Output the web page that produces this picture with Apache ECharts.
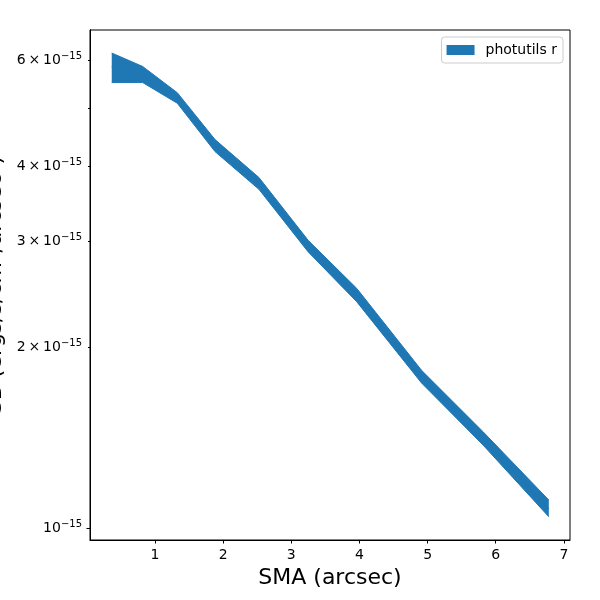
<!DOCTYPE html>
<html>
<head>
<meta charset="utf-8">
<script src="https://cdn.jsdelivr.net/npm/echarts@6/dist/echarts.min.js"></script>
<style>
  html, body { margin: 0; padding: 0; background: #fff; }
  #chart { width: 600px; height: 600px; }
</style>
</head>
<body>
<div id="chart"></div>
<script>
// surface brightness profile
const smaArcsec = [0.365, 0.819, 1.327, 1.880, 2.525, 3.248, 3.959, 4.911, 5.814, 6.779];
const sbUpper = [6.17e-15, 5.86e-15, 5.30e-15, 4.43e-15, 3.83e-15, 3.01e-15, 2.505e-15, 1.83e-15, 1.446e-15, 1.113e-15];
const sbLower = [5.51e-15, 5.51e-15, 5.09e-15, 4.23e-15, 3.66e-15, 2.88e-15, 2.38e-15, 1.743e-15, 1.374e-15, 1.044e-15];
const sbMid = [5.86e-15, 5.68e-15, 5.19e-15, 4.33e-15, 3.75e-15, 2.945e-15, 2.44e-15, 1.786e-15, 1.41e-15, 1.075e-15];

const xTicks = [1, 2, 3, 4, 5, 6, 7];
const yMajorTicks = [1e-15];
const yMinorTicks = [2e-15, 3e-15, 4e-15, 5e-15, 6e-15];
const yMinorLabels = [2e-15, 3e-15, 4e-15, 6e-15];

const blue = '#1f77b4';
const font = 'DejaVu Sans';
const sbUnit = 1e-15;

// the y axis runs in log10(SB / 1e-15) so the stacked band stays positive
function lg(v) {
    return Math.log10(v / sbUnit);
}

// y first, x second: echarts stacks the first numeric column
function pairs(ys) {
    return smaArcsec.map((x, i) => [ys[i], x]);
}

function sbLabel(v) {
    let m = Math.round(Math.pow(10, v));
    if (m === 1) {
        return '{b|10}{s|\u221215}';
    }
    return '{b|' + m + '\u2009\u00d7\u200910}{s|\u221215}';
}

const tickRich = {
    b: { fontSize: 14, color: '#000', fontFamily: font },
    s: { fontSize: 10, color: '#000', fontFamily: font, padding: [0, 0, 7, 0] }
};

function yAxisDef(ticks, labels, tickLen) {
    return {
        type: 'value',
        position: 'left',
        min: -0.02,
        max: 0.8286,
        splitLine: { show: false },
        axisLine: { show: true, onZero: false, lineStyle: { color: '#000', width: 1 } },
        axisTick: {
            show: true, inside: false, length: tickLen,
            lineStyle: { color: '#000', width: 1 },
            customValues: ticks.map(lg)
        },
        axisLabel: {
            show: true, margin: 8,
            formatter: sbLabel,
            rich: tickRich,
            customValues: labels.map(lg)
        }
    };
}

let yMain = yAxisDef(yMinorTicks, yMinorLabels, 2);
yMain.name = '{b|SB (ergs/s/cm}{s|2}{b|/arcsec}{s|2}{b|)}';
yMain.nameLocation = 'middle';
yMain.nameGap = 78;
yMain.nameTextStyle = {
    rich: {
        b: { fontSize: 22, color: '#000', fontFamily: font },
        s: { fontSize: 15, color: '#000', fontFamily: font, padding: [0, 0, 10, 0] }
    }
};

let chart = echarts.init(document.getElementById('chart'));

let option = {
    animation: false,
    backgroundColor: '#fff',
    grid: {
        left: 90, right: 30, top: 30, bottom: 60,
        outerBoundsMode: 'none',
        containLabel: false,
        show: true, borderColor: '#000', borderWidth: 1,
        backgroundColor: 'transparent'
    },
    legend: {
        data: ['photutils r'],
        right: 37,
        top: 37,
        icon: 'rect',
        itemWidth: 28,
        itemHeight: 10,
        padding: [6, 6, 6, 5],
        borderColor: '#cccccc',
        borderWidth: 1,
        borderRadius: 3,
        backgroundColor: 'rgba(255,255,255,0.8)',
        textStyle: { fontSize: 14, color: '#000', fontFamily: font, padding: [0, 0, 0, 6] }
    },
    xAxis: {
        type: 'value',
        min: 0.046,
        max: 7.09,
        name: 'SMA (arcsec)',
        nameLocation: 'middle',
        nameGap: 26,
        nameTextStyle: { fontSize: 22, color: '#000', fontFamily: font },
        splitLine: { show: false },
        axisLine: { show: true, onZero: false, lineStyle: { color: '#000', width: 1 } },
        axisTick: {
            show: true, inside: false, length: 3.5,
            lineStyle: { color: '#000', width: 1 },
            customValues: xTicks
        },
        axisLabel: {
            show: true, margin: 8,
            fontSize: 14, color: '#000', fontFamily: font,
            customValues: xTicks
        }
    },
    yAxis: [
        yMain,
        yAxisDef(yMajorTicks, yMajorTicks, 3.5)
    ],
    series: [
        {
            name: 'lower',
            type: 'line',
            stack: 'band',
            encode: { x: 1, y: 0 },
            data: pairs(sbLower.map(lg)),
            symbol: 'none',
            lineStyle: { color: blue, width: 1 },
            itemStyle: { color: blue },
            z: 2
        },
        {
            name: 'photutils r',
            type: 'line',
            stack: 'band',
            encode: { x: 1, y: 0 },
            data: pairs(sbUpper.map((v, i) => lg(v) - lg(sbLower[i]))),
            symbol: 'none',
            lineStyle: { color: blue, width: 1 },
            itemStyle: { color: blue },
            areaStyle: { color: blue, opacity: 1 },
            z: 2
        },
        {
            name: 'center',
            type: 'line',
            encode: { x: 1, y: 0 },
            data: pairs(sbMid.map(lg)),
            symbol: 'none',
            lineStyle: { color: blue, width: 1.5 },
            itemStyle: { color: blue },
            z: 3
        }
    ]
};

chart.setOption(option);
</script>
</body>
</html>
